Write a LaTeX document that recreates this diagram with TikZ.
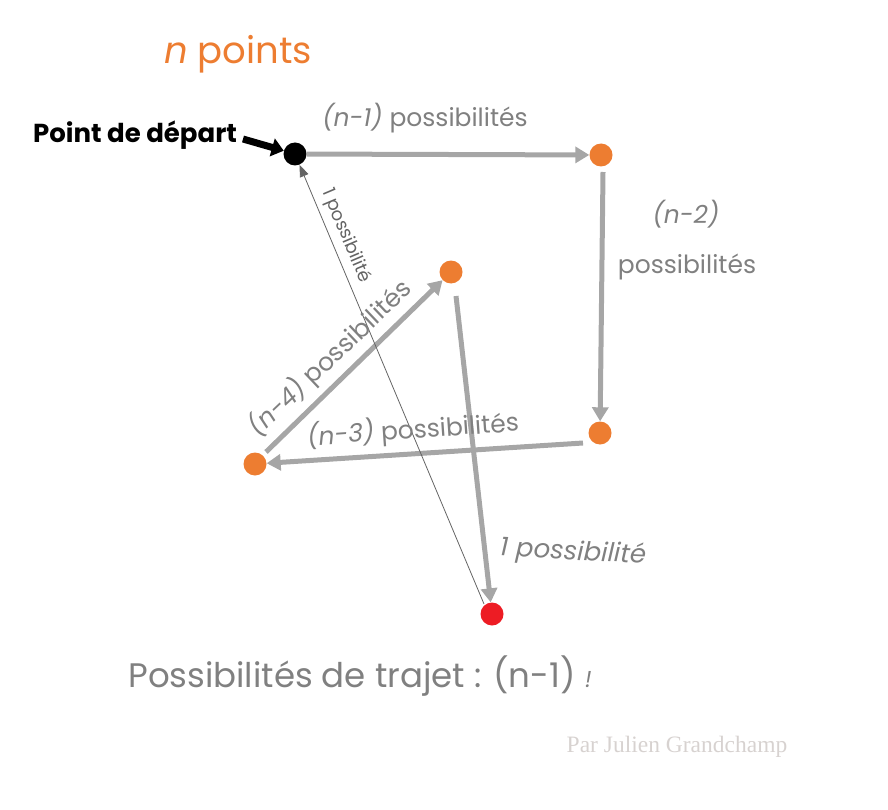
\documentclass[tikz,border=0pt]{standalone}
\usepackage{fontspec}
\setmainfont{Poppins}
\newfontfamily\credfont{Liberation Serif}
\usetikzlibrary{arrows.meta}
\definecolor{orng}{RGB}{237,125,49}
\definecolor{rdpt}{RGB}{237,28,36}
\definecolor{arrg}{RGB}{166,166,166}
\definecolor{txtg}{RGB}{128,128,128}
\definecolor{thin}{RGB}{100,100,100}
\definecolor{credg}{RGB}{215,210,208}
\tikzset{
  pt/.style={circle,inner sep=0pt,minimum size=23pt},
  big/.style={draw=arrg,line width=5pt,-{Triangle[length=14pt,width=16pt]}},
  lab/.style={text=txtg,inner sep=0pt,font=\fontsize{25}{30}\selectfont},
}
\begin{document}
\begin{tikzpicture}[x=1pt,y=-1pt]
\useasboundingbox (0,0) rectangle (888,810);
\node[pt,fill=black] (s) at (295,154) {};
\node[pt,fill=orng] (a) at (601,155) {};
\node[pt,fill=orng] (b) at (600,433) {};
\node[pt,fill=orng] (c) at (255,464) {};
\node[pt,fill=orng] (d) at (451,272) {};
\node[pt,fill=rdpt] (e) at (492,614) {};
\coordinate (a0) at (603,172);
\coordinate (b0) at (583,443);
\coordinate (c0) at (266,452);
\coordinate (d0) at (456,296);
\coordinate (e0) at (484,604);
\draw[big] (s) -- (a);
\draw[big] (a0) -- (b);
\draw[big] (b0) -- (c);
\draw[big] (c0) -- (d);
\draw[big] (d0) -- (e);
\draw[draw=thin,line width=0.8pt,-{Triangle[length=12pt,width=9pt]}] (e0) -- (s);
% titles
\node[text=orng,font=\fontsize{37}{44}\selectfont] (t) at (238,54) {\textit{n} points};
\node[font=\bfseries\fontsize{26}{30}\selectfont,inner sep=0pt] (ps) at (135,135) {Point de départ};
\coordinate (pa) at (243,139);
\draw[line width=7pt,-{Triangle[length=12pt,width=18pt]}] (pa) -- (s);
\node[lab] (l1) at (425,118) {\textit{(n-1)} possibilités};
\node[lab] (l2a) at (686,214) {\textit{(n-2)}};
\node[lab] (l2b) at (687,267) {possibilités};
\node[lab,rotate=4] (l3) at (413,430) {\textit{(n-3)} possibilités};
\node[lab,rotate=43.5] (l4) at (330,358) {\textit{(n-4)} possibilités};
\node[lab,font=\fontsize{26}{30}\selectfont,rotate=-3] (l5) at (573,553) {\textit{1 possibilité}};
\node[text=thin,inner sep=0pt,rotate=-67,font=\fontsize{18}{22}\selectfont] (l6) at (346,236) {1 possibilité};
\node[text=txtg,inner sep=0pt,font=\fontsize{34}{40}\selectfont] (tot) at (360,676) {Possibilités de trajet : (n-1) {\fontsize{23}{28}\selectfont\textit{!}}};
\node[text=credg,inner sep=0pt,font=\credfont\fontsize{23.5}{28}\selectfont] (cr) at (677,747) {Par Julien Grandchamp};
\end{tikzpicture}
\end{document}
